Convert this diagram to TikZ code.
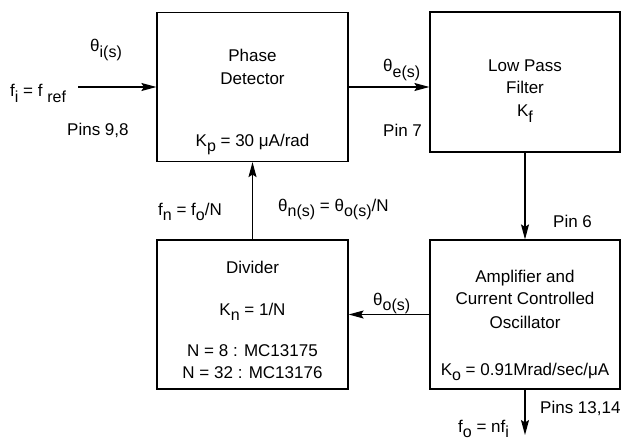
\documentclass[tikz,border=0pt]{standalone}
\usepackage{fontspec}
\setmainfont{Liberation Sans}
\usetikzlibrary{arrows.meta,positioning,calc}
\newcommand{\dn}[1]{\raisebox{-0.35em}{\fontsize{16}{16}\selectfont #1}}
\tikzset{
  blk/.style={draw, rectangle, line width=1.2pt, minimum width=191pt, minimum height=149pt},
  txt/.style={font=\fontsize{17}{20}\selectfont, anchor=base, inner sep=0pt},
  lbl/.style={font=\fontsize{17}{20}\selectfont, anchor=base west, inner sep=0pt},
  arr/.style={-{Stealth[length=15pt, width=8pt, inset=2.5pt]}, line width=1.2pt},
}
\begin{document}
\begin{tikzpicture}[x=1pt, y=1pt]
\useasboundingbox (0,0) rectangle (624,440);

% Blocks
\node[blk] (pd) at (252.5,353) {};
\node[blk, minimum width=190pt, minimum height=140pt] (lpf) at (525,358) {};
\node[blk, minimum width=190pt] (vco) at (525,125.5) {};
\node[blk] (div) at (252.5,125.5) {};

% Phase detector
\node[txt] at ([yshift=25pt]pd.center) (pdname1) {Phase};
\node[txt] at ([yshift=2pt]pd.center) (pdname2) {Detector};
\node[txt] at ([yshift=-59pt]pd.center) (kp) {K\dn{p} = 30 μA/rad};

% Low pass filter
\node[txt] at ([yshift=10pt]lpf.center) (lpfname1) {Low Pass};
\node[txt] at ([yshift=-12pt]lpf.center) (lpfname2) {Filter};
\node[txt] at ([yshift=-35pt]lpf.center) (kf) {K\dn{f}};

% Amplifier / CCO
\node[txt] at ([yshift=32.5pt]vco.center) (vconame1) {Amplifier and};
\node[txt] at ([yshift=10.5pt]vco.center) (vconame2) {Current Controlled};
\node[txt] at ([yshift=-13.5pt]vco.center) (vconame3) {Oscillator};
\node[txt] at ([yshift=-60.5pt]vco.center) (ko) {K\dn{o} = 0.91Mrad/sec/μA};

% Divider
\node[txt] at ([yshift=41.5pt]div.center) (divname) {Divider};
\node[txt] at ([yshift=-0.5pt]div.center) (kn) {K\dn{n} = 1/N};
\node[txt] at ([yshift=-41.5pt]div.center) (n8) {N = 8 : MC13175};
\node[txt] at ([yshift=-63.5pt]div.center) (n32) {N = 32 : MC13176};

% Arrows
\coordinate (in) at (78,353);
\coordinate (out) at (525,5);
\draw[arr] (in) -- (in -| pd.west);
\draw[arr] (pd.east) -- (pd.east -| lpf.west);
\draw[arr] (lpf.south) -- (lpf.south |- vco.north);
\draw[arr] (vco.west) -- (vco.west -| div.east);
\draw[arr] (div.north) -- (div.north |- pd.south);
\draw[arr] (vco.south) -- (out);

% Signal and pin labels
\node[lbl] at (90,388) (thi) {θ\dn{i(s)}};
\node[lbl] at (10,343) (fi) {f\dn{i} = f \dn{ref}};
\node[lbl] at (67,305) (pins98) {Pins 9,8};
\node[lbl] at (383,368) (the) {θ\dn{e(s)}};
\node[lbl] at (383,303) (pin7) {Pin 7};
\node[lbl] at (553,213) (pin6) {Pin 6};
\node[lbl] at (373,135) (tho) {θ\dn{o(s)}};
\node[lbl] at (158,225) (fn) {f\dn{n} = f\dn{o}/N};
\node[lbl] at (278,229) (thn) {θ\dn{n(s)} = θ\dn{o(s)}/N};
\node[lbl] at (540,27) (pins1314) {Pins 13,14};
\node[lbl] at (458,8) (fo) {f\dn{o} = nf\dn{i}};

\end{tikzpicture}
\end{document}
